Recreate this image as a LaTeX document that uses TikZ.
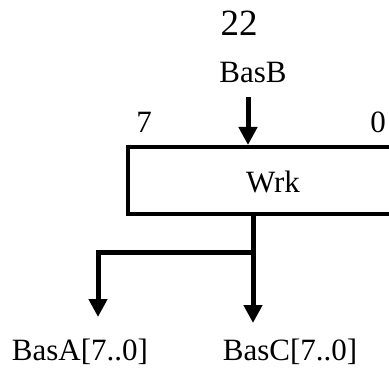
\documentclass[tikz,border=0pt]{standalone}
\usepackage{fontspec}
\setmainfont{Liberation Serif}
\usetikzlibrary{arrows.meta}
\tikzset{
  lbl/.style={inner sep=0pt, anchor=base, font=\fontsize{31}{36}\selectfont},
  big/.style={inner sep=0pt, anchor=base, font=\fontsize{37}{42}\selectfont},
  regbox/.style={draw, line width=4pt, inner sep=0pt, minimum width=294pt, minimum height=67pt, anchor=north west},
  bus/.style={line width=5pt, -{Triangle[length=18pt,width=18pt]}},
}
\begin{document}
\begin{tikzpicture}[x=1pt,y=-1pt]
\clip (0,0) rectangle (389,369);
\fill[white] (0,0) rectangle (389,369);
\node[big] (num) at (239,36) {22};
\node[lbl] (basb) at (253,83) {BasB};
\node[lbl] (msb) at (144,132) {7};
\node[lbl] (lsb) at (378,132) {0};
\node[regbox] (box) at (126,145) {};
\node[lbl] (wrk) at (273,193) {Wrk};
\node[lbl] (basa) at (80,360) {BasA[7..0]};
\node[lbl] (basc) at (290,360) {BasC[7..0]};
\coordinate (in) at (248,97);
\coordinate (j) at (253,252);
\coordinate (cend) at (253,323);
\coordinate (aend) at (98,317);
\draw[bus] (in) -- (in |- box.north);
\draw[bus] (box.south -| j) -- (cend);
\draw[bus] (j) -| (aend);
\end{tikzpicture}
\end{document}
